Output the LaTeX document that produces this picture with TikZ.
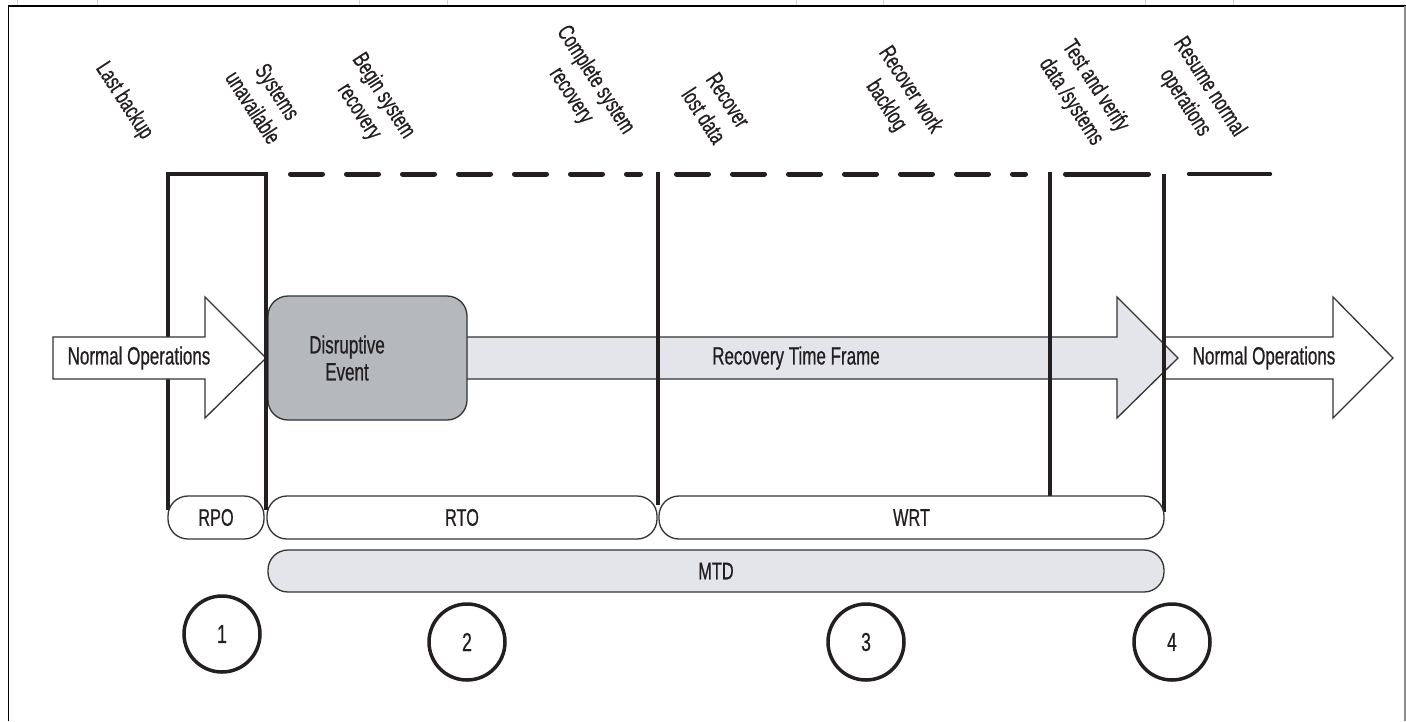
\documentclass[tikz,border=0pt]{standalone}
\usepackage{fontspec}
\setmainfont[FakeStretch=0.68,FakeBold=0.6]{Liberation Sans}
\definecolor{ink}{HTML}{231F20}
\definecolor{edge}{HTML}{333333}
\definecolor{boxgray}{HTML}{B5B8BD}
\definecolor{lightfill}{HTML}{E3E5EA}
\begin{document}
\begin{tikzpicture}[x=1pt,y=-1pt,
  lbl/.style={font=\fontsize{25}{27}\selectfont, text=ink, inner sep=0pt},
  rlbl/.style={font=\fontsize{23.5}{29}\selectfont, text=ink, inner sep=0pt, rotate=-57, align=center},
  bar/.style={line width=4.5pt, draw=ink, line join=miter},
  dashseg/.style={line width=5pt, draw=ink, line cap=round, dash pattern=on 32pt off 24pt},
  outl/.style={draw=edge, line width=1.3pt, line join=miter},
  pill/.style={draw=edge, line width=1.3pt, rounded corners=20pt, inner sep=0pt, font=\fontsize{24}{26}\selectfont, text=ink},
  num/.style={circle, draw=ink, line width=3.5pt, minimum size=76pt, inner sep=0pt, font=\fontsize{26}{28}\selectfont, text=ink}]
\useasboundingbox (0,0) rectangle (1406,721);
\fill[white] (0,0) rectangle (1406,721);
% frame
\foreach \x in {17,97,359,447,796,883,1145,1233} \draw[black!18, line width=1pt] (\x,0) -- (\x,5);
\draw[black, line width=1.6pt] (8.5,721) -- (8.5,6) -- (1406,6);
\draw[black!45, line width=1.5pt] (1405,6) -- (1405,721);
% RPO bracket
\draw[bar] (168,510) -- (168,174) -- (266,174) -- (266,510);
% arrows
\draw[outl, fill=white] (53,337) -- (205,337) -- (205,297) -- (266,358) -- (205,418) -- (205,379) -- (53,379) -- cycle;
\draw[outl, fill=white] (1164,337) -- (1333,337) -- (1333,297) -- (1393,358) -- (1333,418) -- (1333,379) -- (1164,379);
\draw[outl, fill=lightfill] (420,337) -- (1117,337) -- (1117,297) -- (1178,358) -- (1117,418) -- (1117,379) -- (420,379);
% disruptive event box
\draw[outl, fill=boxgray, rounded corners=20pt] (268,296) rectangle (467,420);
% vertical bars
\draw[bar] (266,174) -- (266,510);
\draw[bar] (658,172) -- (658,505);
\draw[bar] (1050,172) -- (1050,496);
\draw[bar] (1164,174) -- (1164,512);
% top segments
\draw[dashseg] (290.5,174) -- (640.5,174);
\draw[dashseg] (676.5,174) -- (1025.5,174);
\draw[line width=5pt, draw=ink, line cap=round] (1065.5,174) -- (1148.5,174);
\draw[line width=3.2pt, draw=ink, line cap=round] (1188.5,174) -- (1270.5,174);
% pills
\node[pill, fill=white, minimum width=96pt, minimum height=43pt] (rpo) at (216,517.5) {RPO};
\node[pill, fill=white, minimum width=390pt, minimum height=43pt] (rto) at (462,517.5) {RTO};
\node[pill, fill=white, minimum width=505pt, minimum height=43pt] (wrt) at (911.5,517.5) {WRT};
\node[pill, fill=lightfill, minimum width=896pt, minimum height=42pt] (mtd) at (716,571) {MTD};
% circles
\node[num] (c1) at (222,634) {1};
\node[num] (c2) at (467,642) {2};
\node[num] (c3) at (866,642) {3};
\node[num] (c4) at (1172,642) {4};
% arrow texts
\node[lbl] (nl) at (139,358) {Normal Operations};
\node[lbl] (nr) at (1264,358) {Normal Operations};
\node[lbl] (rtf) at (796,358) {Recovery Time Frame};
\node[lbl, align=center] (dis) at (347,358) {Disruptive\\Event};
% rotated labels
\node[rlbl] (l1) at (124,101) {Last backup};
\node[rlbl] (l2) at (265.5,99.5) {Systems\\unavailable};
\node[rlbl] (l3) at (371,104) {Begin system\\recovery};
\node[rlbl] (l4) at (583,88) {Complete system\\recovery};
\node[rlbl] (l5) at (716,108) {Recover\\lost data};
\node[rlbl] (l6) at (898,98) {Recover work\\backlog};
\node[rlbl] (l7) at (1083,94) {Test and verify\\data /systems};
\node[rlbl] (l8) at (1197,95) {Resume normal\\operations};
\end{tikzpicture}
\end{document}
